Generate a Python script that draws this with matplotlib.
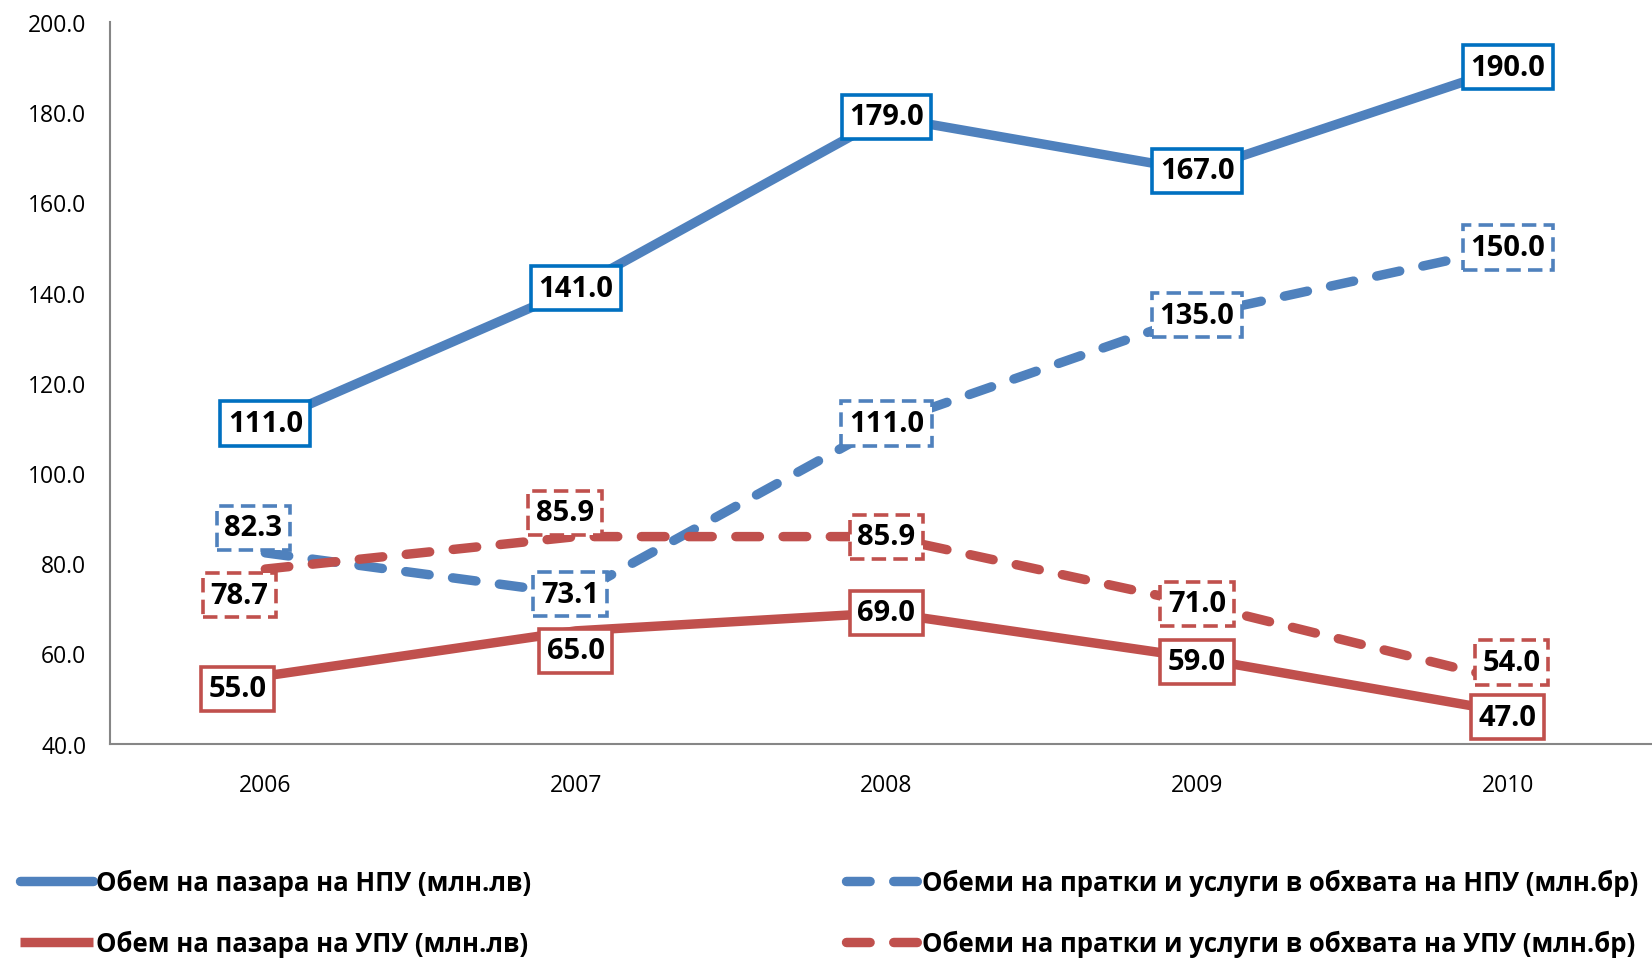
import matplotlib.pyplot as plt
from matplotlib.lines import Line2D

plt.rcParams["font.family"] = ["Open Sans", "DejaVu Sans"]

years = ["2006", "2007", "2008", "2009", "2010"]
npu_market = [111.0, 141.0, 179.0, 167.0, 190.0]
npu_items = [82.3, 73.1, 111.0, 135.0, 150.0]
upu_market = [55.0, 65.0, 69.0, 59.0, 47.0]
upu_items = [78.7, 85.9, 85.9, 71.0, 54.0]

names = [
    "Обем на пазара на НПУ (млн.лв)",
    "Обем на пазара на УПУ (млн.лв)",
    "Обеми на пратки и услуги в обхвата на НПУ (млн.бр)",
    "Обеми на пратки и услуги в обхвата на УПУ (млн.бр)",
]

BLUE = "#4F81BD"
RED = "#C0504D"
BOX_BLUE = "#0070C0"
DASHES = (2.5, 2.5)

fig = plt.figure(figsize=(16.52, 9.62), dpi=100)
ax = fig.add_axes([0.0666, 0.226, 0.94, 0.75])

x = range(len(years))

# series: values, color, dashed, box edge colour, label offsets (pixels)
series = [
    (npu_market, BLUE, False, BOX_BLUE, [(0, 0)] * 5),
    (npu_items, BLUE, True, BLUE, [(-12, 25), (-6, 0), (0, 0), (0, 0), (0, 0)]),
    (upu_market, RED, False, RED, [(-28, -13), (0, -20), (0, 0), (0, -4), (0, -5)]),
    (upu_items, RED, True, RED, [(-26, -26), (-11, 24), (0, 0), (0, 0), (4, 18)]),
]

for vals, color, dashed, box_ec, offs in series:
    if dashed:
        ax.plot(x, vals, color=color, lw=6.8, dashes=DASHES,
                dash_capstyle="round", solid_joinstyle="round", zorder=2)
    else:
        ax.plot(x, vals, color=color, lw=6.8, solid_capstyle="round",
                solid_joinstyle="round", zorder=2)
    for i, v in enumerate(vals):
        ax.annotate(
            f"{v:.1f}", xy=(i, v), xytext=offs[i], textcoords="offset pixels",
            ha="center", va="center", fontsize=21, fontweight="bold", zorder=5,
            bbox=dict(boxstyle="square,pad=0.26", fc="white", ec=box_ec, lw=2.6,
                      ls=(0, (4, 2)) if dashed else "-"),
        )

ax.set_xlim(-0.5, 4.5)
ax.set_ylim(40, 200)
ax.set_yticks(range(40, 201, 20))
ax.set_yticklabels([f"{t:.1f}" for t in range(40, 201, 20)])
ax.set_xticks(list(x))
ax.set_xticklabels(years)
ax.tick_params(axis="both", length=0, labelsize=16.5)
ax.tick_params(axis="x", pad=21)
ax.tick_params(axis="y", pad=17)
for side in ["top", "right"]:
    ax.spines[side].set_visible(False)
for side in ["left", "bottom"]:
    ax.spines[side].set_color("#868686")
    ax.spines[side].set_linewidth(1.5)

h_npu = Line2D([], [], color=BLUE, lw=6.8, solid_capstyle="round")
h_upu = Line2D([], [], color=RED, lw=6.8, solid_capstyle="butt")
h_npu_d = Line2D([], [], color=BLUE, lw=6.8, dashes=DASHES, dash_capstyle="round")
h_upu_d = Line2D([], [], color=RED, lw=6.8, dashes=DASHES, dash_capstyle="round")

leg_kw = dict(frameon=False, handlelength=2.85, handletextpad=0.1, labelspacing=1.3,
              prop=dict(size=18.5, weight="bold"), loc="center left", borderaxespad=0,
              borderpad=0)
fig.legend([h_npu, h_upu], names[:2], bbox_to_anchor=(0.012, 0.05), **leg_kw)
fig.legend([h_npu_d, h_upu_d], names[2:], bbox_to_anchor=(0.512, 0.05), **leg_kw)

fig.savefig("out.png", dpi=100)
